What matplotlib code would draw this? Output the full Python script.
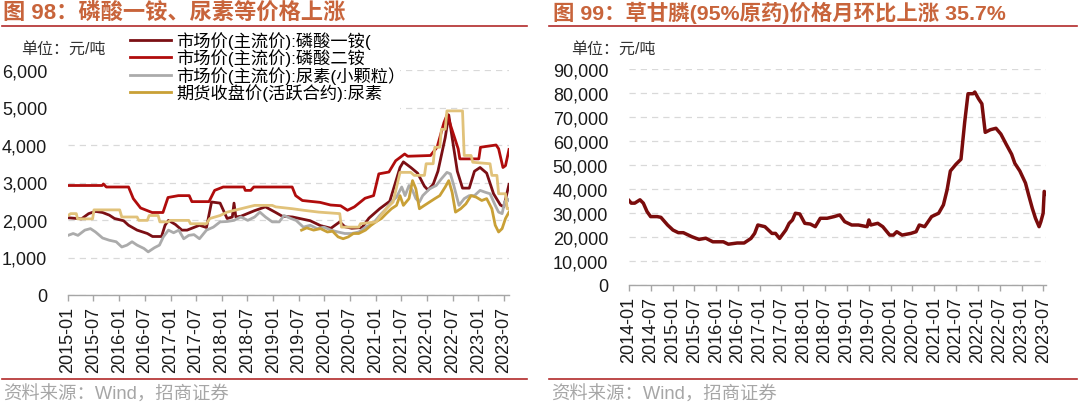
import matplotlib
matplotlib.use("Agg")
import matplotlib.pyplot as plt
from matplotlib.lines import Line2D
from matplotlib.patches import Rectangle
from matplotlib.ticker import FuncFormatter
import pandas as pd

plt.rcParams['font.family'] = ['Liberation Sans', 'Noto Sans CJK SC']
plt.rcParams['axes.unicode_minus'] = False

# ---------------- 图98 数据 ----------------
map_dates = ["2015-01-01", "2015-04-07", "2015-05-28", "2015-07-16", "2015-09-04", "2015-10-22",
             "2015-11-28", "2016-02-01", "2016-03-07", "2016-05-07", "2016-07-19", "2016-08-25",
             "2016-10-28", "2016-11-22", "2016-12-16", "2017-02-04", "2017-03-22", "2017-04-28",
             "2017-07-25", "2017-09-13", "2017-10-19", "2017-12-19", "2018-02-07", "2018-03-16",
             "2018-03-28", "2018-04-10", "2018-05-16", "2018-08-22", "2018-11-07", "2019-01-19",
             "2019-03-07", "2019-05-19", "2019-09-22", "2019-12-04", "2020-02-16", "2020-04-19",
             "2020-05-25", "2020-07-13", "2020-09-25", "2020-11-13", "2021-01-28", "2021-04-10",
             "2021-06-22", "2021-07-16", "2021-09-07", "2021-10-25", "2021-12-13", "2022-01-07",
             "2022-02-13", "2022-03-19", "2022-05-10", "2022-06-04", "2022-06-28", "2022-08-04",
             "2022-09-10", "2022-10-28", "2022-12-04", "2023-01-13", "2023-03-01", "2023-04-19",
             "2023-06-07", "2023-07-01", "2023-08-07"]
map_price = [2060, 2030, 2170, 2230, 2200, 2130, 2040, 1980, 1860, 1730, 1640, 1560,
             1560, 1860, 1990, 1880, 1730, 1730, 1860, 1800, 2480, 2450, 2040, 2080,
             2450, 2080, 2100, 2250, 2350, 2200, 2100, 2080, 1980, 1850, 1780, 1950,
             1820, 1780, 1800, 2050, 2300, 2500, 3400, 3550, 3400, 3250, 2900, 2800,
             2950, 3300, 4200, 4800, 4200, 3300, 2850, 2850, 3300, 3400, 3250, 2700,
             2400, 2350, 2950]

dap_dates = ["2015-01-01", "2015-09-01", "2015-09-10", "2015-10-01", "2016-03-07", "2016-04-10",
             "2016-06-01", "2016-08-22", "2016-11-07", "2016-12-13", "2017-02-25", "2017-05-13",
             "2017-06-01", "2017-10-01", "2017-11-10", "2018-01-10", "2018-06-07", "2018-06-16",
             "2018-07-25", "2018-08-16", "2019-05-16", "2019-06-10", "2019-07-28", "2019-12-01",
             "2020-02-13", "2020-04-25", "2020-06-13", "2020-08-01", "2020-10-16", "2020-12-16",
             "2021-01-22", "2021-04-04", "2021-05-22", "2021-07-25", "2021-08-16", "2022-01-25",
             "2022-03-13", "2022-05-01", "2022-05-25", "2022-06-19", "2022-08-10", "2022-08-22",
             "2023-01-04", "2023-01-16", "2023-05-07", "2023-05-25", "2023-06-25", "2023-07-13",
             "2023-08-07"]
dap_price = [2920, 2920, 2960, 2880, 2880, 2570, 2320, 2200, 2200, 2600, 2650, 2650,
             2490, 2490, 2790, 2880, 2880, 2790, 2790, 2880, 2880, 2650, 2520, 2470,
             2400, 2380, 2260, 2350, 2580, 2650, 3230, 3280, 3580, 3760, 3700, 3720,
             3940, 4600, 4820, 4500, 3900, 3630, 3630, 3940, 4000, 3900, 3400, 3450,
             3880]

urea_dates = ["2015-01-01", "2015-02-07", "2015-03-13", "2015-05-01", "2015-06-10", "2015-07-16",
              "2015-09-04", "2015-10-22", "2015-12-10", "2016-01-19", "2016-02-25", "2016-04-01",
              "2016-05-07", "2016-06-25", "2016-07-25", "2016-09-07", "2016-10-13", "2016-11-10",
              "2016-12-16", "2017-01-22", "2017-02-28", "2017-04-04", "2017-05-10", "2017-06-16",
              "2017-07-25", "2017-09-13", "2017-11-01", "2017-12-19", "2018-02-07", "2018-03-28",
              "2018-05-16", "2018-07-04", "2018-08-22", "2018-09-28", "2018-11-07", "2018-12-25",
              "2019-02-13", "2019-03-19", "2019-05-07", "2019-06-13", "2019-08-04", "2019-09-22",
              "2019-11-10", "2019-12-28", "2020-02-16", "2020-04-07", "2020-05-25", "2020-07-13",
              "2020-09-01", "2020-10-19", "2020-12-10", "2021-01-28", "2021-03-16", "2021-04-22",
              "2021-05-28", "2021-07-04", "2021-07-28", "2021-08-25", "2021-09-19", "2021-10-13",
              "2021-11-07", "2021-12-01", "2021-12-25", "2022-01-19", "2022-02-13", "2022-03-07",
              "2022-04-13", "2022-05-22", "2022-06-16", "2022-07-10", "2022-08-16", "2022-09-22",
              "2022-10-28", "2022-12-04", "2023-01-13", "2023-02-19", "2023-03-25", "2023-05-01",
              "2023-05-25", "2023-06-19", "2023-07-07", "2023-07-25", "2023-08-07"]
urea_price = [1590, 1640, 1590, 1730, 1770, 1680, 1520, 1460, 1420, 1280, 1330, 1420,
              1330, 1240, 1150, 1260, 1330, 1550, 1730, 1660, 1730, 1500, 1590, 1610,
              1500, 1730, 1810, 1950, 1960, 1990, 2080, 1990, 2080, 2210, 2080, 1950,
              1950, 2120, 2040, 1990, 1810, 1860, 1770, 1810, 1730, 1680, 1640, 1640,
              1680, 1810, 1900, 2120, 2300, 2480, 2610, 2880, 2650, 2920, 2790, 2570,
              2480, 2650, 2740, 2830, 2880, 2920, 3100, 3270, 3230, 2920, 2390, 2570,
              2650, 2650, 2790, 2740, 2700, 2390, 2210, 2170, 2480, 2570, 2520]

fut_dates = ["2019-07-22", "2019-08-28", "2019-10-16", "2019-12-04", "2020-01-22", "2020-02-28",
             "2020-04-07", "2020-05-13", "2020-06-19", "2020-07-25", "2020-09-01", "2020-10-19",
             "2020-11-28", "2021-01-04", "2021-02-10", "2021-03-16", "2021-04-22", "2021-05-28",
             "2021-06-22", "2021-07-16", "2021-08-25", "2021-09-19", "2021-10-13", "2021-11-07",
             "2021-12-13", "2022-01-19", "2022-02-25", "2022-04-01", "2022-05-10", "2022-06-04",
             "2022-06-28", "2022-07-22", "2022-08-28", "2022-10-04", "2022-11-10", "2022-12-16",
             "2023-01-25", "2023-03-01", "2023-04-07", "2023-05-01", "2023-05-25", "2023-06-19",
             "2023-07-13", "2023-08-07"]
fut_price = [1730, 1790, 1730, 1770, 1680, 1700, 1550, 1500, 1550, 1640, 1640, 1730,
             1860, 1960, 2040, 2170, 2300, 2390, 2650, 2390, 2570, 3050, 2830, 2300,
             2390, 2480, 2570, 2650, 2880, 3050, 2740, 2210, 2300, 2430, 2650, 2610,
             2520, 2570, 2300, 1860, 1680, 1770, 2040, 2210]

# 图中未列入图例的阶梯线
step_dates = ["2015-01-01", "2015-01-20", "2015-03-01", "2015-03-10", "2015-06-25", "2015-07-05",
              "2016-01-04", "2016-01-19", "2016-05-07", "2016-05-19", "2016-07-19", "2016-08-01",
              "2016-10-04", "2016-10-16", "2016-12-16", "2016-12-28", "2017-05-10", "2017-05-22",
              "2017-09-13", "2017-10-07", "2017-12-19", "2018-02-07", "2018-05-16", "2018-08-22",
              "2018-12-25", "2019-01-19", "2019-05-19", "2019-08-04", "2019-11-22", "2020-04-19",
              "2020-05-01", "2020-09-01", "2020-09-13", "2021-01-04", "2021-01-28", "2021-03-16",
              "2021-05-04", "2021-06-22", "2021-09-07", "2021-10-01", "2021-12-13", "2021-12-25",
              "2022-02-13", "2022-02-25", "2022-04-01", "2022-04-13", "2022-05-10", "2022-05-22",
              "2022-09-10", "2022-09-22", "2022-11-10", "2022-11-22", "2023-03-25", "2023-04-07",
              "2023-05-13", "2023-05-25", "2023-07-13", "2023-07-25", "2023-08-07"]
step_price = [2120, 2170, 2170, 2030, 2030, 2270, 2270, 2080, 2080, 1990, 1990, 2120,
              2120, 1950, 1950, 1990, 1990, 1900, 1900, 2040, 2120, 2210, 2300, 2390,
              2390, 2350, 2300, 2260, 2210, 2170, 1810, 1810, 1900, 1950, 2080, 2300,
              2480, 3270, 3270, 3190, 3190, 3500, 3500, 3940, 3940, 4420, 4420, 4910,
              4910, 3720, 3720, 3540, 3500, 3190, 3190, 2700, 2700, 2300, 2300]

# ---------------- 图99 数据 ----------------
gly_dates = ["2014-01-01", "2014-01-20", "2014-02-18", "2014-04-03", "2014-05-01", "2014-06-01",
             "2014-07-01", "2014-08-25", "2014-09-25", "2014-11-20", "2015-01-04", "2015-02-18",
             "2015-04-01", "2015-06-12", "2015-08-10", "2015-10-06", "2015-12-04", "2016-03-01",
             "2016-04-12", "2016-06-25", "2016-08-22", "2016-10-18", "2016-11-18", "2016-12-15",
             "2017-02-12", "2017-04-12", "2017-05-12", "2017-06-15", "2017-08-06", "2017-09-03",
             "2017-10-01", "2017-10-25", "2017-12-01", "2018-01-12", "2018-02-27", "2018-04-10",
             "2018-05-22", "2018-07-18", "2018-09-15", "2018-11-01", "2018-12-12", "2019-02-09",
             "2019-04-06", "2019-06-18", "2019-07-03", "2019-07-18", "2019-09-15", "2019-10-27",
             "2019-12-24", "2020-01-24", "2020-02-21", "2020-04-06", "2020-06-18", "2020-08-01",
             "2020-08-28", "2020-10-12", "2020-12-09", "2021-02-06", "2021-03-18", "2021-04-18",
             "2021-05-15", "2021-07-01", "2021-08-12", "2021-09-12", "2021-10-10", "2021-11-21",
             "2021-12-06", "2022-01-06", "2022-02-03", "2022-03-03", "2022-04-15", "2022-06-01",
             "2022-07-12", "2022-08-25", "2022-10-10", "2022-11-06", "2022-12-18", "2023-02-03",
             "2023-03-01", "2023-04-01", "2023-04-28", "2023-05-28", "2023-06-12", "2023-07-01",
             "2023-07-10", "2023-07-25"]
gly_price = [35200, 34100, 34100, 35500, 34100, 30600, 28500, 28500, 28200, 25000, 22900, 21800,
             21800, 20100, 19000, 19500, 18000, 18000, 17000, 17500, 17500, 19400, 21500, 25000,
             24300, 21500, 21500, 19400, 22900, 25700, 27100, 29900, 29600, 25700, 25400, 24300,
             27800, 27800, 28500, 29200, 26400, 25000, 25000, 24300, 27100, 25000, 25700, 24300,
             20800, 20800, 22200, 20800, 21500, 22200, 25000, 24300, 28500, 29900, 33400, 39700,
             47500, 50300, 52400, 67800, 79700, 79700, 80400, 77600, 75500, 63600, 64700, 65300,
             62900, 58700, 54500, 50700, 47500, 42500, 37600, 32000, 27800, 24300, 26400, 29900,
             39000, 38000]

left_series = [
    ("市场价(主流价):磷酸一铵(", map_dates, map_price, "#7b0f14"),
    ("市场价(主流价):磷酸二铵", dap_dates, dap_price, "#b00c0c"),
    ("市场价(主流价):尿素(小颗粒）", urea_dates, urea_price, "#ababab"),
    ("期货收盘价(活跃合约):尿素", fut_dates, fut_price, "#c9a036"),
]

title_color = "#c8643b"
rule_color = "#b22a2a"
grid_color = "#d9d9d9"
axis_color = "#a6a6a6"

W, H = 1080, 406
fig = plt.figure(figsize=(W / 100, H / 100), dpi=100)


def fx(px):
    return px / W


def fy(py):
    return 1 - py / H


def style_axes(ax, ymax, ystep, start, end, xmax):
    ax.set_ylim(0, ymax)
    ax.set_yticks(range(0, ymax + 1, ystep))
    ax.yaxis.set_major_formatter(FuncFormatter(lambda v, p: f"{v:,.0f}"))
    ax.yaxis.grid(True, color=grid_color, linestyle=(0, (5, 4)), linewidth=0.9)
    ax.set_axisbelow(True)
    for s in ["left", "top", "right"]:
        ax.spines[s].set_visible(False)
    ax.spines["bottom"].set_color(axis_color)
    ax.spines["bottom"].set_linewidth(1.0)
    ticks = pd.date_range(start, end, freq="6MS")
    ax.set_xticks(ticks)
    ax.set_xticklabels([t.strftime("%Y-%m") for t in ticks], rotation=90, fontsize=13,
                       color="#1a1a1a", va="top", ha="center")
    ax.set_xlim(pd.Timestamp(start), pd.Timestamp(xmax))
    ax.tick_params(axis="y", length=0, pad=15, labelsize=13, labelcolor="#1a1a1a")
    ax.tick_params(axis="x", length=4, width=1.0, color=axis_color, pad=4)


# ---------------- 左图 ----------------
ax1 = fig.add_axes([fx(68), fy(296), fx(509) - fx(68), fy(71) - fy(296)])
for label, d, v, c in left_series:
    ax1.plot(pd.to_datetime(d), v, color=c, lw=2.0, label=label, zorder=3)
ax1.plot(pd.to_datetime(step_dates), step_price, color="#e1c27a", lw=2.0, zorder=3.5)
style_axes(ax1, 6000, 1000, "2015-01-01", "2023-07-01", "2023-08-07")
ax1.add_patch(Rectangle((0, 0.82), 0.753, 0.2, transform=ax1.transAxes, facecolor="white",
                        edgecolor="none", zorder=1.8, clip_on=False))

handles, labels = ax1.get_legend_handles_labels()
fig.legend(handles, labels, loc="upper left", bbox_to_anchor=(fx(130), fy(32)),
           frameon=False, fontsize=12.4, handlelength=2.4, handletextpad=0.3,
           labelspacing=-0.02, borderpad=0, borderaxespad=0)

fig.text(fx(21), fy(49), "单位：元/吨", fontsize=11.5, color="#333333", va="center")

# ---------------- 右图 ----------------
ax2 = fig.add_axes([fx(629), fy(286), fx(1046) - fx(629), fy(70) - fy(286)])
ax2.plot(pd.to_datetime(gly_dates), gly_price, color="#7a0c0c", lw=2.5, zorder=3)
style_axes(ax2, 90000, 10000, "2014-01-01", "2023-07-01", "2023-07-25")
fig.text(fx(571), fy(49), "单位：元/吨", fontsize=11.5, color="#333333", va="center")

# ---------------- 标题与页脚 ----------------
fig.text(fx(3), fy(13), "图 98：磷酸一铵、尿素等价格上涨", fontsize=16, fontweight="bold",
         color=title_color, va="center")
fig.text(fx(553), fy(13), "图 99：草甘膦(95%原药)价格月环比上涨 35.7%", fontsize=15.4,
         fontweight="bold", color=title_color, va="center")
for x0, x1 in [(2, 527), (549, 1077)]:
    fig.add_artist(Line2D([fx(x0), fx(x1)], [fy(27), fy(27)], color=rule_color, lw=1.2))
    fig.add_artist(Line2D([fx(x0), fx(x1)], [fy(380), fy(380)], color=rule_color, lw=1.2))
fig.text(fx(3), fy(395), "资料来源：Wind，招商证券", fontsize=13.2, color="#a6a6a6", va="center")
fig.text(fx(551), fy(395), "资料来源：Wind，招商证券", fontsize=13.2, color="#a6a6a6", va="center")

fig.savefig("out.png", dpi=100)
